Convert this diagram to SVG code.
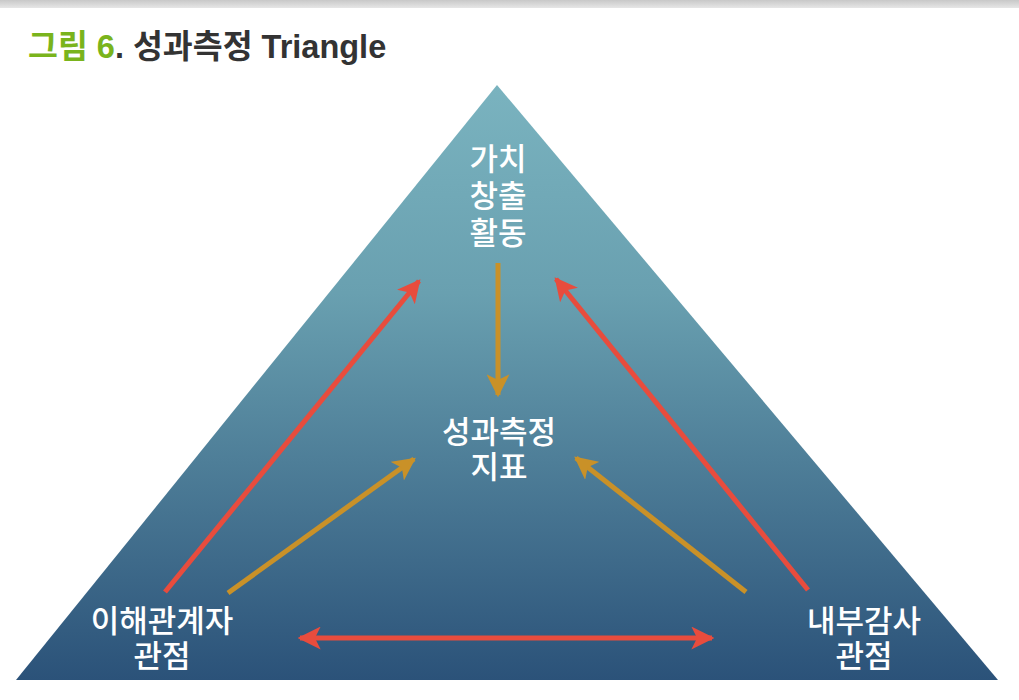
<svg xmlns="http://www.w3.org/2000/svg" width="1019" height="700" viewBox="0 0 1019 700">
<defs>
<linearGradient id="tri" x1="0" y1="0" x2="0" y2="1">
<stop offset="0" stop-color="#7ab3bf"/>
<stop offset="0.35" stop-color="#69a0b0"/>
<stop offset="1" stop-color="#2b5279"/>
</linearGradient>
<linearGradient id="bar" x1="0" y1="0" x2="0" y2="1">
<stop offset="0" stop-color="#c8c8c8"/>
<stop offset="1" stop-color="#e6e6e6"/>
</linearGradient>
<marker id="ar" markerWidth="4.6" markerHeight="4.6" viewBox="0 0 10 10" refX="9" refY="5" orient="auto-start-reverse" markerUnits="strokeWidth">
<path d="M0,0 L10,5 L0,10 L2.5,5 Z" fill="#e84c3d"/>
</marker>
<marker id="ag" markerWidth="4.6" markerHeight="4.6" viewBox="0 0 10 10" refX="9" refY="5" orient="auto-start-reverse" markerUnits="strokeWidth">
<path d="M0,0 L10,5 L0,10 L2.5,5 Z" fill="#c99128"/>
</marker>
<style>
.lbl{font-family:"Noto Sans CJK KR","Noto Sans",sans-serif;font-size:31px;font-weight:500;fill:#ffffff;text-anchor:middle}
.r{stroke:#e84c3d;stroke-width:5;fill:none;marker-end:url(#ar)}
.g{stroke:#c99128;stroke-width:5;fill:none;marker-end:url(#ag)}
.t{font-family:"Liberation Sans","Noto Sans CJK KR",sans-serif;font-size:32.5px;font-weight:bold}
</style>
</defs>
<rect width="1019" height="700" fill="#ffffff"/>
<rect width="1019" height="8" fill="url(#bar)"/>
<text x="28" y="58" class="t"><tspan fill="#7ab41c">그림 6</tspan><tspan fill="#333333">. 성과측정 Triangle</tspan></text>
<polygon points="497,85 998,680 16,680" fill="url(#tri)"/>
<g id="connectors">
<line class="r" x1="165" y1="592" x2="419" y2="281"/>
<line class="r" x1="808" y1="590" x2="556" y2="279"/>
<line class="g" x1="498" y1="263" x2="498" y2="395"/>
<line class="g" x1="228" y1="593" x2="414" y2="459"/>
<line class="g" x1="746" y1="592" x2="576" y2="458"/>
<line class="r" x1="300" y1="638" x2="712" y2="638" style="marker-start:url(#ar)"/>
</g>
<g id="node-value">
<text class="lbl" x="498" y="170">가치</text>
<text class="lbl" x="498" y="207">창출</text>
<text class="lbl" x="498" y="244">활동</text>
</g>
<g id="node-kpi">
<text class="lbl" x="499" y="443">성과측정</text>
<text class="lbl" x="499" y="478">지표</text>
</g>
<g id="node-stakeholder">
<text class="lbl" x="162" y="632">이해관계자</text>
<text class="lbl" x="162" y="667">관점</text>
</g>
<g id="node-audit">
<text class="lbl" x="864" y="632">내부감사</text>
<text class="lbl" x="864" y="667">관점</text>
</g>
</svg>
